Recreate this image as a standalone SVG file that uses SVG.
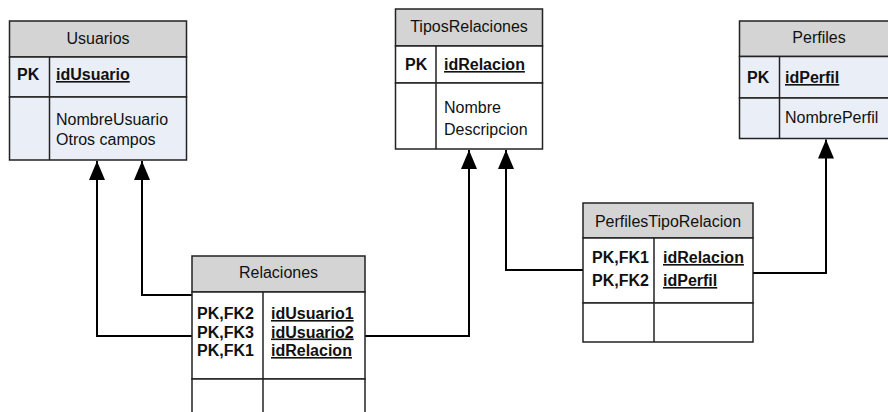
<svg xmlns="http://www.w3.org/2000/svg" width="888" height="412" viewBox="0 0 888 412">
<defs>
<style>
.hd{fill:#d4d4d4;stroke:#222;stroke-width:1.5}
.bb{fill:#e9eef7;stroke:#222;stroke-width:1.5}
.bw{fill:#ffffff;stroke:#222;stroke-width:1.5}
.ln{stroke:#222;stroke-width:1.5;fill:none}
.t{font-family:"Liberation Sans",Arial,sans-serif;font-size:16px;fill:#111}
.c{text-anchor:middle}
.b{font-weight:bold}
.u{font-weight:bold;text-decoration:underline}
.cn{stroke:#000;stroke-width:2;fill:none;marker-end:url(#ah)}
</style>
<marker id="ah" viewBox="0 0 19 16" refX="19" refY="8" markerWidth="19" markerHeight="16" orient="auto" markerUnits="userSpaceOnUse">
<path d="M0,0 L19,8 L0,16 Z" fill="#000"/>
</marker>
</defs>
<rect width="888" height="412" fill="#fff"/>

<g id="connectors">
<polyline class="cn" points="192,295 142,295 142,161"/>
<polyline class="cn" points="192,336 97,336 97,161"/>
<polyline class="cn" points="365,336 469,336 469,150"/>
<polyline class="cn" points="583,270 506,270 506,150"/>
<polyline class="cn" points="753,273 826,273 826,139.5"/>
</g>

<g id="Usuarios">
<rect class="hd" x="9.5" y="21" width="177" height="36"/>
<rect class="bb" x="9.5" y="57" width="177" height="40"/>
<rect class="bb" x="9.5" y="97" width="177" height="63"/>
<line class="ln" x1="49.5" y1="57" x2="49.5" y2="160"/>
<text class="t c" x="98" y="44">Usuarios</text>
<text class="t b" x="17" y="80">PK</text>
<text class="t u" x="56" y="80">idUsuario</text>
<text class="t" x="56" y="125">NombreUsuario</text>
<text class="t" x="56" y="145">Otros campos</text>
</g>

<g id="TiposRelaciones">
<rect class="hd" x="395.5" y="9" width="147" height="37"/>
<rect class="bw" x="395.5" y="46" width="147" height="37"/>
<rect class="bw" x="395.5" y="83" width="147" height="66"/>
<line class="ln" x1="436" y1="46" x2="436" y2="149"/>
<text class="t c" x="469" y="32">TiposRelaciones</text>
<text class="t b" x="405" y="70">PK</text>
<text class="t u" x="444" y="70">idRelacion</text>
<text class="t" x="444" y="113">Nombre</text>
<text class="t" x="444" y="135">Descripcion</text>
</g>

<g id="Perfiles">
<rect class="hd" x="739.5" y="21" width="153" height="35.5"/>
<rect class="bb" x="739.5" y="56.5" width="153" height="41.5"/>
<rect class="bb" x="739.5" y="98" width="153" height="40.5"/>
<line class="ln" x1="779.5" y1="56.5" x2="779.5" y2="138.5"/>
<text class="t c" x="819" y="43">Perfiles</text>
<text class="t b" x="747" y="83">PK</text>
<text class="t u" x="785" y="83">idPerfil</text>
<text class="t" x="785" y="123">NombrePerfil</text>
</g>

<g id="Relaciones">
<rect class="hd" x="192" y="256" width="173" height="36"/>
<rect class="bw" x="192" y="292" width="173" height="87"/>
<rect class="bw" x="192" y="379" width="173" height="45"/>
<line class="ln" x1="263" y1="292" x2="263" y2="412"/>
<text class="t c" x="278.5" y="278">Relaciones</text>
<text class="t b" x="197" y="319">PK,FK2</text>
<text class="t b" x="197" y="337.5">PK,FK3</text>
<text class="t b" x="197" y="356">PK,FK1</text>
<text class="t u" x="271" y="319">idUsuario1</text>
<text class="t u" x="271" y="337.5">idUsuario2</text>
<text class="t u" x="271" y="356">idRelacion</text>
</g>

<g id="PerfilesTipoRelacion">
<rect class="hd" x="583" y="203" width="170" height="35"/>
<rect class="bw" x="583" y="238" width="170" height="65"/>
<rect class="bw" x="583" y="303" width="170" height="39"/>
<line class="ln" x1="654" y1="238" x2="654" y2="342"/>
<text class="t c" x="668" y="227">PerfilesTipoRelacion</text>
<text class="t b" x="592" y="263">PK,FK1</text>
<text class="t b" x="592" y="286">PK,FK2</text>
<text class="t u" x="663" y="263">idRelacion</text>
<text class="t u" x="663" y="286">idPerfil</text>
</g>
</svg>
